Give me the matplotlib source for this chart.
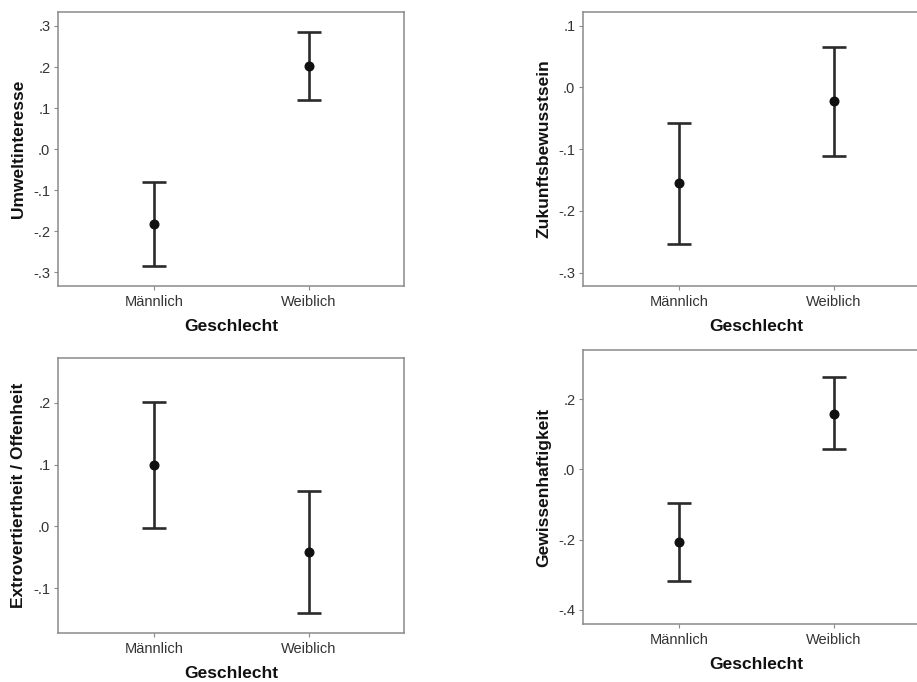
import matplotlib
matplotlib.use("Agg")
import matplotlib.pyplot as plt
from matplotlib.ticker import FuncFormatter

plt.rcParams['font.family'] = ['Liberation Sans', 'DejaVu Sans']

categories = ["Männlich", "Weiblich"]
x_label = "Geschlecht"

# Panel data: means with lower/upper CI bounds
umwelt_mean = [-0.182, 0.203]
umwelt_low = [-0.285, 0.120]
umwelt_high = [-0.079, 0.286]

zukunft_mean = [-0.155, -0.022]
zukunft_low = [-0.254, -0.111]
zukunft_high = [-0.057, 0.066]

extro_mean = [0.099, -0.041]
extro_low = [-0.002, -0.140]
extro_high = [0.201, 0.058]

gewissen_mean = [-0.206, 0.158]
gewissen_low = [-0.317, 0.057]
gewissen_high = [-0.095, 0.262]

panels = [
    dict(label="Umweltinteresse", mean=umwelt_mean, low=umwelt_low, high=umwelt_high,
         ticks=[-0.3, -0.2, -0.1, 0.0, 0.1, 0.2, 0.3], ylim=(-0.333, 0.334),
         pos=(58, 12, 286)),
    dict(label="Zukunftsbewusstsein", mean=zukunft_mean, low=zukunft_low, high=zukunft_high,
         ticks=[-0.3, -0.2, -0.1, 0.0, 0.1], ylim=(-0.3216, 0.122),
         pos=(583, 12, 286)),
    dict(label="Extrovertiertheit / Offenheit", mean=extro_mean, low=extro_low, high=extro_high,
         ticks=[-0.1, 0.0, 0.1, 0.2], ylim=(-0.172, 0.272),
         pos=(58, 358, 633)),
    dict(label="Gewissenhaftigkeit", mean=gewissen_mean, low=gewissen_low, high=gewissen_high,
         ticks=[-0.4, -0.2, 0.0, 0.2], ylim=(-0.44, 0.340),
         pos=(583, 350, 624)),
]

W, H = 917, 682
fig = plt.figure(figsize=(W / 100, H / 100), dpi=100)


def fmt(v, _):
    s = "%.1f" % v
    if s == "-0.0":
        s = "0.0"
    return s.replace("0.", ".", 1)


for p in panels:
    left, top, bottom = p["pos"]
    ax = fig.add_axes([left / W, 1 - bottom / H, 346 / W, (bottom - top) / H])
    xs = [1, 2]
    m = p["mean"]
    yerr = [[mi - lo for mi, lo in zip(m, p["low"])],
            [hi - mi for mi, hi in zip(m, p["high"])]]
    ax.errorbar(xs, m, yerr=yerr, fmt='o', color='#111111', ecolor='#2b2b2b',
                elinewidth=1.9, capsize=8.5, capthick=1.9, markersize=6.2, zorder=3)
    ax.set_xlim(0.381, 2.613)
    ax.set_ylim(*p["ylim"])
    ax.set_xticks(xs)
    ax.set_xticklabels(categories)
    ax.set_yticks(p["ticks"])
    ax.yaxis.set_major_formatter(FuncFormatter(fmt))
    for s in ax.spines.values():
        s.set_color('#8a8a8a')
        s.set_linewidth(1.1)
    ax.tick_params(axis='both', direction='out', length=3, width=0.8, color='#8a8a8a',
                   labelsize=10.5, labelcolor='#333333', pad=2.5)
    ax.tick_params(axis='x', pad=3.5)
    ax.set_ylabel(p["label"], fontsize=12.5, fontweight='bold', labelpad=5, color='#111111')
    ax.set_xlabel(x_label, fontsize=12.5, fontweight='bold', labelpad=7, color='#111111')

fig.savefig("out.png", dpi=100, facecolor='white')
